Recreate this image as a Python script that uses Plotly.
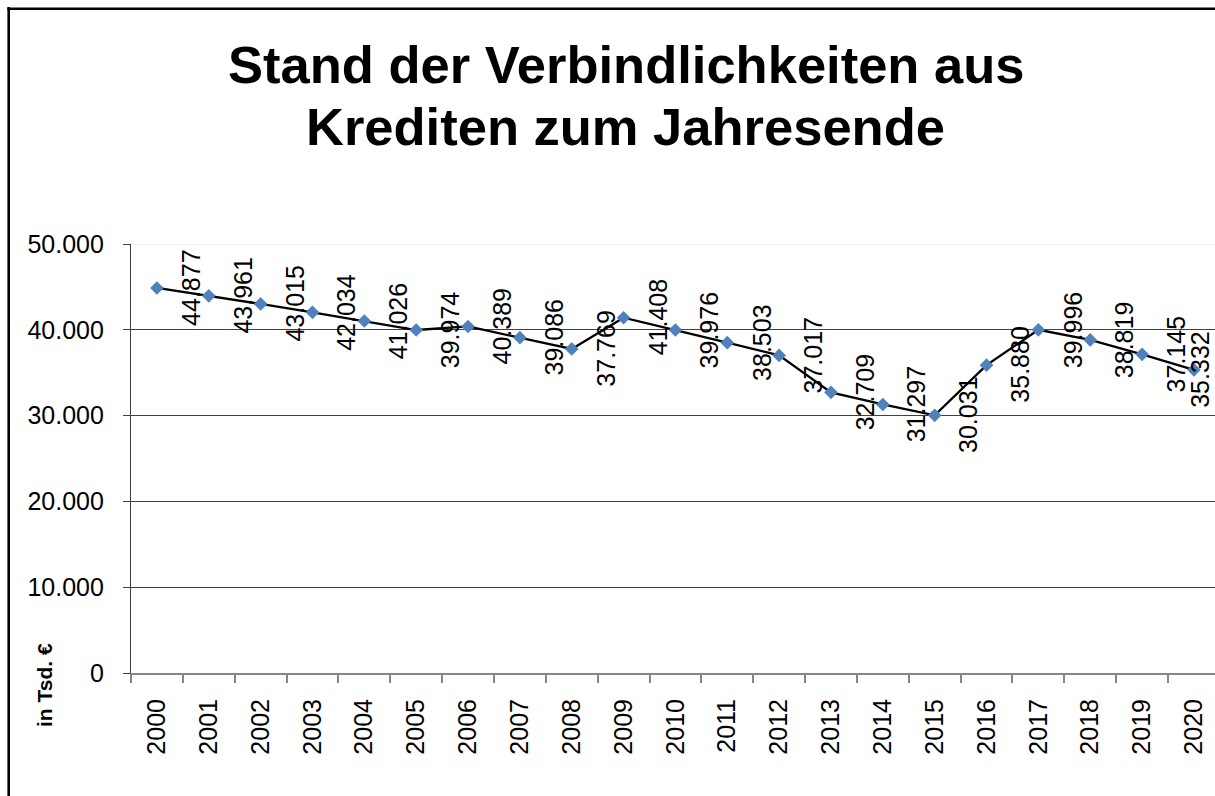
import plotly.graph_objects as go

years = [str(y) for y in range(2000, 2021)]
values = [44877, 43961, 43015, 42034, 41026, 39974, 40389, 39086, 37769, 41408,
          39976, 38503, 37017, 32709, 31297, 30031, 35880, 39996, 38819, 37145, 35332]
labels = ["44.877", "43.961", "43.015", "42.034", "41.026", "39.974", "40.389", "39.086",
          "37.769", "41.408", "39.976", "38.503", "37.017", "32.709", "31.297", "30.031",
          "35.880", "39.996", "38.819", "37.145", "35.332"]
y_ticks = [0, 10000, 20000, 30000, 40000, 50000]
y_ticktext = ["0", "10.000", "20.000", "30.000", "40.000", "50.000"]

W, H = 1215, 796
ML, MR, MT, MB = 131, 0, 244, 123
PW, PH = W - ML - MR, H - MT - MB
CAT_W = 51.85

def px_x(x):
    return (x - ML) / PW

def px_y(y):
    return (H - MB - y) / PH

FONT = "Liberation Sans, Arial, sans-serif"

fig = go.Figure()
fig.add_trace(go.Scatter(
    x=years, y=values, mode="lines+markers",
    line=dict(color="black", width=2.3),
    marker=dict(symbol="diamond", size=10.5, color="#4F81BD", line=dict(width=0)),
    hoverinfo="skip", showlegend=False,
))

annotations = []
for i, (v, lab) in enumerate(zip(values, labels)):
    shift = 34 if i < len(values) - 1 else 6
    annotations.append(dict(
        x=i, y=v, xref="x", yref="y", text=lab, showarrow=False,
        textangle=-90, xanchor="center", yanchor="middle", xshift=shift,
        font=dict(family=FONT, size=25, color="black"),
    ))

annotations.append(dict(
    x=px_x(626), y=px_y(64), xref="paper", yref="paper",
    text="<b>Stand der Verbindlichkeiten aus</b>", showarrow=False,
    xanchor="center", yanchor="middle",
    font=dict(family=FONT, size=52.5, color="black"),
))
annotations.append(dict(
    x=px_x(625), y=px_y(126), xref="paper", yref="paper",
    text="<b>Krediten zum Jahresende</b>", showarrow=False,
    xanchor="center", yanchor="middle",
    font=dict(family=FONT, size=52.5, color="black"),
))
annotations.append(dict(
    x=px_x(44), y=px_y(685), xref="paper", yref="paper",
    text="<b>in Tsd. €</b>", showarrow=False, textangle=-90,
    xanchor="center", yanchor="middle",
    font=dict(family=FONT, size=21, color="black"),
))

shapes = [
    dict(type="line", xref="paper", yref="y", x0=0, x1=1, y0=50000, y1=50000,
         line=dict(color="#ececec", width=1.5), layer="between"),
    dict(type="line", xref="paper", yref="paper", x0=px_x(8.7), x1=px_x(8.7),
         y0=px_y(7), y1=px_y(H + 5), line=dict(color="black", width=2.6), layer="above"),
    dict(type="line", xref="paper", yref="paper", x0=px_x(7.4), x1=px_x(W + 5),
         y0=px_y(8.7), y1=px_y(8.7), line=dict(color="black", width=2.6), layer="above"),
]

fig.update_layout(
    width=W, height=H,
    margin=dict(l=ML, r=MR, t=MT, b=MB, autoexpand=False),
    paper_bgcolor="white", plot_bgcolor="white",
    font=dict(family=FONT, size=25, color="black"),
    annotations=annotations, shapes=shapes,
    xaxis=dict(
        type="category", range=[-0.5, -0.5 + PW / CAT_W],
        tickangle=-90, tickson="boundaries", ticks="outside", ticklen=8,
        tickcolor="#868686", tickwidth=1.5,
        showline=True, linecolor="#868686", linewidth=2,
        showgrid=False, ticklabelstandoff=14,
        tickfont=dict(family=FONT, size=25, color="black"),
    ),
    yaxis=dict(
        range=[0, 50000], tickvals=y_ticks, ticktext=y_ticktext,
        ticks="outside", ticklen=7, tickcolor="#404040", tickwidth=1,
        showline=True, linecolor="#404040", linewidth=1.2,
        showgrid=True, gridcolor="#404040", gridwidth=1, zeroline=False,
        ticklabelstandoff=14,
        tickfont=dict(family=FONT, size=25, color="black"),
    ),
)

fig.write_html("out.html", config={"displayModeBar": False},
               post_script="document.body.style.margin='0';")
